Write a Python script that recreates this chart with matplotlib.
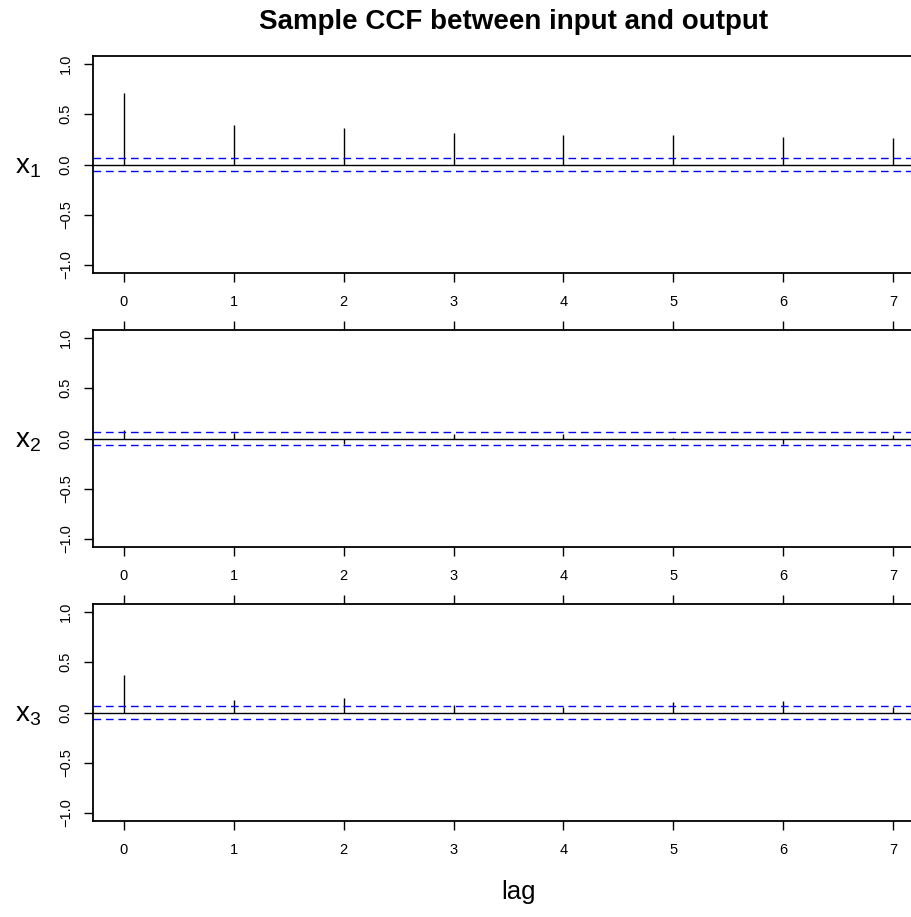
import matplotlib
matplotlib.use("Agg")
import matplotlib.pyplot as plt
import numpy as np

plt.rcParams['font.family'] = ['Liberation Sans', 'DejaVu Sans']

lags = [0, 1, 2, 3, 4, 5, 6, 7]
ccf_x1 = [0.71, 0.395, 0.365, 0.315, 0.295, 0.29, 0.275, 0.26]
ccf_x2 = [0.08, 0.055, -0.05, 0.04, 0.045, 0.005, -0.05, 0.03]
ccf_x3 = [0.37, 0.12, 0.146, 0.073, 0.05, 0.106, 0.11, 0.05]
conf_band = 0.067
row_labels = ['x_1', 'x_2', 'x_3']
yticks = [-1.0, -0.5, 0.0, 0.5, 1.0]
yticklabels = ['\u22121.0', '\u22120.5', '0.0', '0.5', '1.0']

W, H = 912, 917
fig = plt.figure(figsize=(W / 100, H / 100), dpi=100)

left_px, right_px = 93, 924
panel_h = 217
tops = [56, 330, 604]

for i, (vals, lab) in enumerate(zip([ccf_x1, ccf_x2, ccf_x3], row_labels)):
    top = tops[i]
    ax = fig.add_axes([left_px / W, 1 - (top + panel_h) / H,
                       (right_px - left_px) / W, panel_h / H])
    ax.vlines(lags, 0, vals, color='black', lw=1.0)
    ax.axhline(0, color='black', lw=1.0)
    for c in (conf_band, -conf_band):
        ax.axhline(c, color='#0000FF', lw=1.0, ls=(0, (5.5, 3.5)))
    ax.set_xlim(-0.28, 7.28)
    ax.set_ylim(-1.08, 1.08)
    ax.set_xticks(lags)
    ax.set_yticks(yticks)
    ax.set_yticklabels(yticklabels, rotation=90, va='center')
    ax.tick_params(axis='both', direction='out', length=6.5, width=1.0,
                   labelsize=10.5, color='black')
    ax.tick_params(axis='x', pad=9, top=(i > 0), labeltop=False)
    ax.tick_params(axis='y', pad=8)
    for s in ax.spines.values():
        s.set_linewidth(1.3)
    fig.text(28 / W, 1 - (top + 108.5 + 3) / H, r'$\mathregular{' + lab + '}$',
             fontsize=20, ha='center', va='center')

fig.text(514 / W, 1 - 22 / H, 'Sample CCF between input and output',
         fontsize=20, fontweight='bold', ha='center', va='center')
fig.text(519 / W, 1 - 892 / H, 'lag', fontsize=18.5, ha='center', va='center')

fig.savefig('out.png', dpi=100)
